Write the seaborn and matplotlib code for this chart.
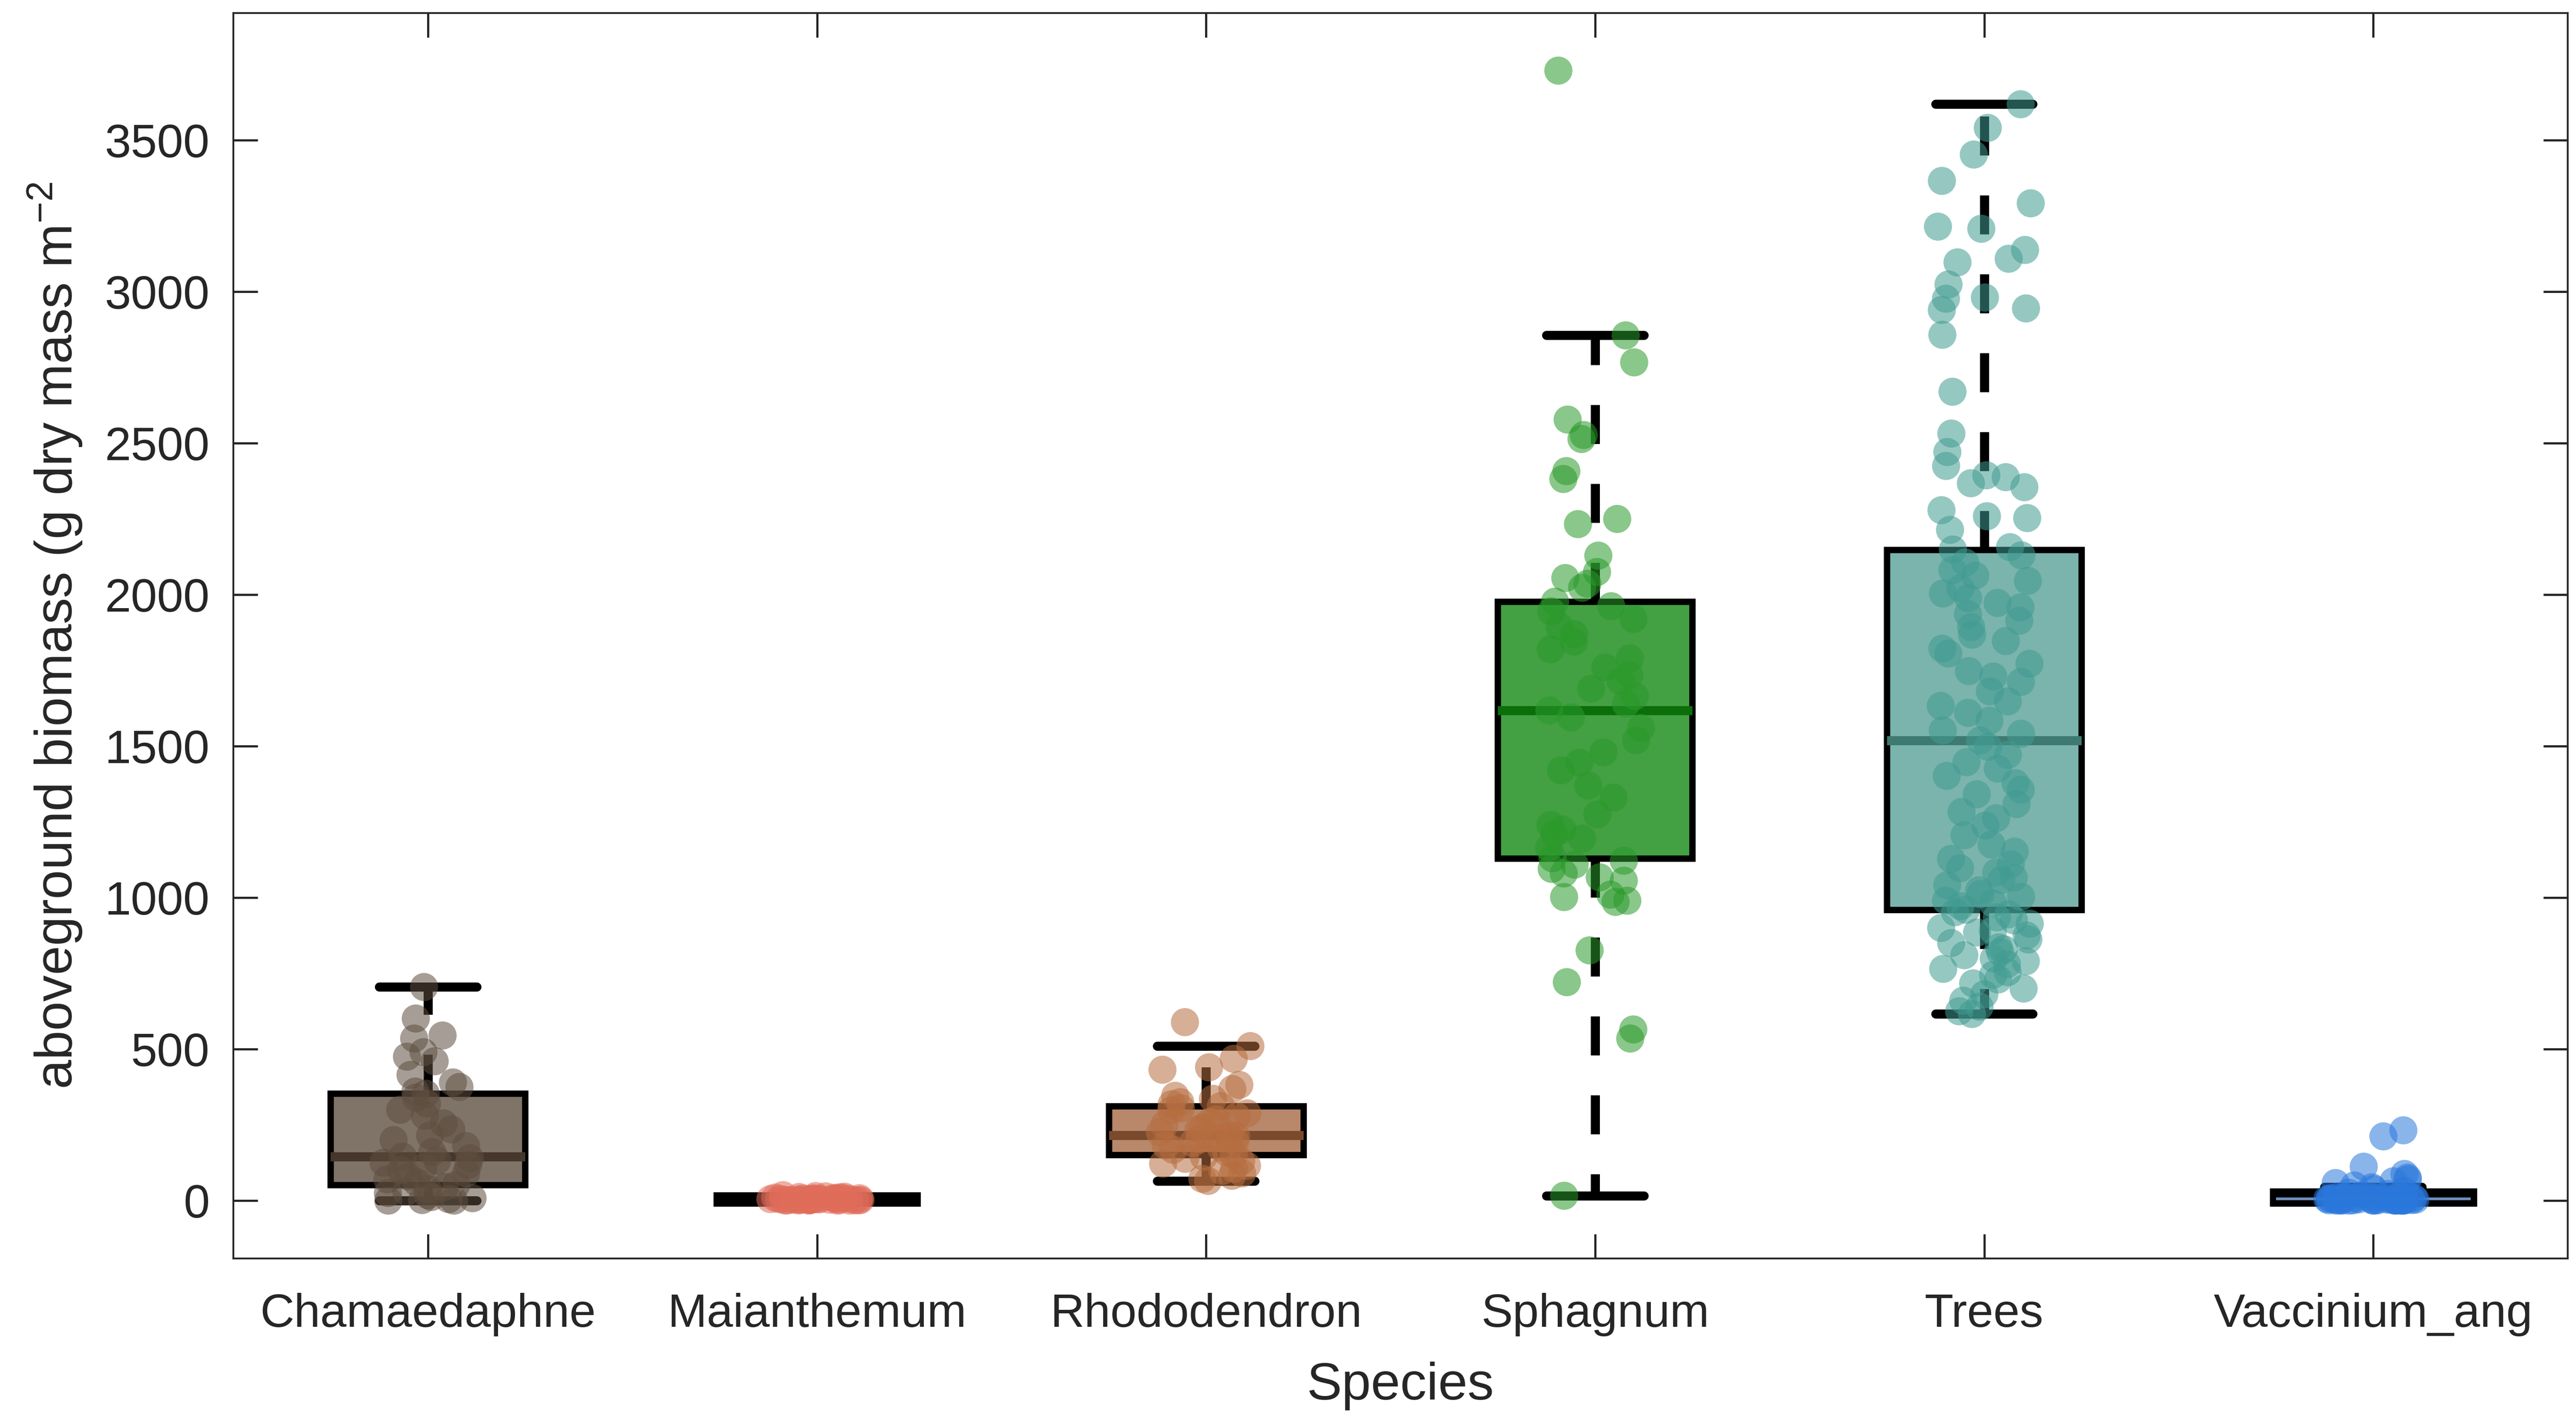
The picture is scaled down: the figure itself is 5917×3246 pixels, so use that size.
import numpy as np
import pandas as pd
import matplotlib
matplotlib.use("Agg")
import matplotlib.pyplot as plt
import seaborn as sns

# ---------------- data ----------------
species = ["Chamaedaphne", "Maianthemum", "Rhododendron", "Sphagnum", "Trees", "Vaccinium_ang"]

chamaedaphne = [0, 0, 2, 5, 8, 12, 18, 25, 30, 38, 45,
                52,
                60, 70, 80, 90, 100, 110, 118, 125, 132, 140,
                145,
                160, 180, 200, 215, 235, 255, 280, 300, 320, 340,
                353,
                360, 375, 390, 415, 460, 475, 490, 535, 545, 601, 705]

maianthemum = [0, 0, 1, 1, 2, 2, 3, 3, 4, 4, 5, 5, 6, 6, 7, 8, 9, 10, 12, 14,
               3, 2, 1, 0, 5, 6, 4, 2, 8, 11, 15, 18, 7, 3, 1, 0, 2, 4, 9, 13]

rhododendron = [65, 72, 82, 90, 98, 105, 115, 122, 130, 138, 145,
                151,
                160, 168, 175, 182, 190, 196, 202, 206, 210, 213,
                216,
                225, 235, 242, 250, 260, 268, 278, 288, 298, 305,
                312,
                318, 325, 336, 346, 368, 382, 432, 440, 468, 510, 589]

sphagnum = [16, 535, 565, 721, 826, 986, 990, 1002, 1010, 1056, 1067, 1080, 1095, 1109, 1122,
            1130,
            1165, 1195, 1210, 1225, 1240, 1275, 1330, 1370, 1420, 1445, 1480, 1520, 1560, 1595,
            1618,
            1640, 1665, 1690, 1715, 1735, 1760, 1790, 1820, 1845, 1870, 1895, 1920, 1945, 1962,
            1977,
            2023, 2036, 2055, 2075, 2129, 2233, 2250, 2382, 2408, 2514, 2527, 2578, 2767, 2856, 3730]

trees = [616, 625, 640, 660, 681, 700, 717, 730, 745, 754, 765, 780, 790, 799, 810,
         820, 830, 836, 850, 862, 875, 885, 891, 900, 914, 925, 935, 945, 952,
         960,
         972, 981, 990, 1003, 1012, 1024, 1041, 1058, 1066, 1083, 1097, 1110, 1128, 1152,
         1175, 1206, 1238, 1262, 1283, 1309, 1341, 1356, 1378, 1402, 1426, 1447, 1471, 1498,
         1519,
         1541, 1552, 1584, 1610, 1633, 1648, 1681, 1712, 1730, 1748, 1772, 1806, 1822, 1847,
         1868, 1893, 1914, 1936, 1958, 1973, 1989, 2004, 2021, 2046, 2063, 2081, 2106, 2130,
         2149,
         2157, 2214, 2253, 2259, 2279, 2355, 2368, 2388, 2394, 2425, 2471, 2532, 2670, 2858,
         2940, 2945, 2977, 2981, 3024, 3097, 3109, 3138, 3208, 3215, 3292, 3366, 3453, 3541, 3619]

vaccinium = [232, 212, 112, 88, 76, 70, 64, 58, 50, 44, 38, 32, 26, 22, 18, 15, 13, 12, 11, 10,
             9, 9, 8, 8, 7, 7, 6, 6, 5, 5, 4, 4, 3, 3, 3, 2, 2, 2, 2, 1,
             1, 1, 1, 1, 0, 0, 0, 0, 0, 0, 0, 0, 0, 0, 0]

yticks = [0, 500, 1000, 1500, 2000, 2500, 3000, 3500]

# ---------------- styling ----------------
box_colors = ["#807468", "#e07462", "#b98769", "#43a043", "#7ab4ac", "#3a80dc"]
median_colors = ["#45372b", "#000000", "#7a4a2e", "#0b6e0b", "#3f7a72", "#6d8fbf"]
median_widths = [5, 5, 5, 5, 5, 1.5]
box_edge_widths = [3.5, 7, 3.5, 3.5, 3.5, 7]
point_colors = ["#5e4e40", "#e06c5a", "#b66e40", "#2a9a2a", "#419b91", "#2b78dc"]

values = [chamaedaphne, maianthemum, rhododendron, sphagnum, trees, vaccinium]
df = pd.DataFrame({
    "Species": np.concatenate([[s] * len(v) for s, v in zip(species, values)]),
    "biomass": np.concatenate([np.asarray(v, dtype=float) for v in values]),
})

sns.set_theme(style="white")
plt.rcParams["font.family"] = ["Liberation Sans", "DejaVu Sans"]
plt.rcParams["mathtext.fontset"] = "custom"
plt.rcParams["mathtext.rm"] = "Liberation Sans"
plt.rcParams["mathtext.it"] = "Liberation Sans:italic"
plt.rcParams["mathtext.bf"] = "Liberation Sans:bold"

np.random.seed(7)

fig = plt.figure(figsize=(5917 / 300, 3246 / 300), dpi=300)
ax = fig.add_axes([536 / 5917, 1 - 2891 / 3246, (5898 - 536) / 5917, (2891 - 30) / 3246])

sns.boxplot(
    data=df, x="Species", y="biomass", hue="Species", order=species, hue_order=species,
    palette=box_colors, saturation=1, width=0.5, showfliers=False, whis=1.5,
    linewidth=3.5, linecolor="black", legend=False, ax=ax,
    whiskerprops={"linewidth": 5, "linestyle": (0, (4.3, 4.4)), "color": "black"},
    capprops={"linewidth": 5, "color": "black"},
    medianprops={"linewidth": 5},
)
for cont, mc, mw, bw in zip(ax.containers, median_colors, median_widths, box_edge_widths):
    meds = getattr(cont, "medians", None)
    if meds is not None:
        for m in meds:
            m.set_color(mc)
            m.set_linewidth(mw)
    boxes = getattr(cont, "boxes", None)
    if boxes is not None:
        for b in boxes:
            b.set_linewidth(bw)

sns.stripplot(
    data=df, x="Species", y="biomass", hue="Species", order=species, hue_order=species,
    palette=point_colors, jitter=0.12, size=15.5, alpha=0.55, linewidth=0,
    legend=False, zorder=5, ax=ax,
)

ax.set_xlim(-0.5, 5.5)
ax.set_ylim(-191, 3920)
ax.set_yticks(yticks)
ax.set_yticklabels([str(t) for t in yticks])

for sp in ax.spines.values():
    sp.set_visible(True)
    sp.set_linewidth(1.0)
    sp.set_color("#262626")

ax.tick_params(axis="both", direction="in", length=13.5, width=1.2, colors="#262626",
               labelcolor="#262626", labelsize=26, top=True, right=True,
               bottom=True, left=True)
ax.tick_params(axis="y", pad=13)
ax.tick_params(axis="x", pad=19)

ax.set_xlabel("Species", fontsize=29, color="#262626", labelpad=14)
ax.set_ylabel("aboveground biomass (g dry mass m$^{-2}$", fontsize=29, color="#262626", labelpad=11)

fig.savefig("out.png", dpi=300)
